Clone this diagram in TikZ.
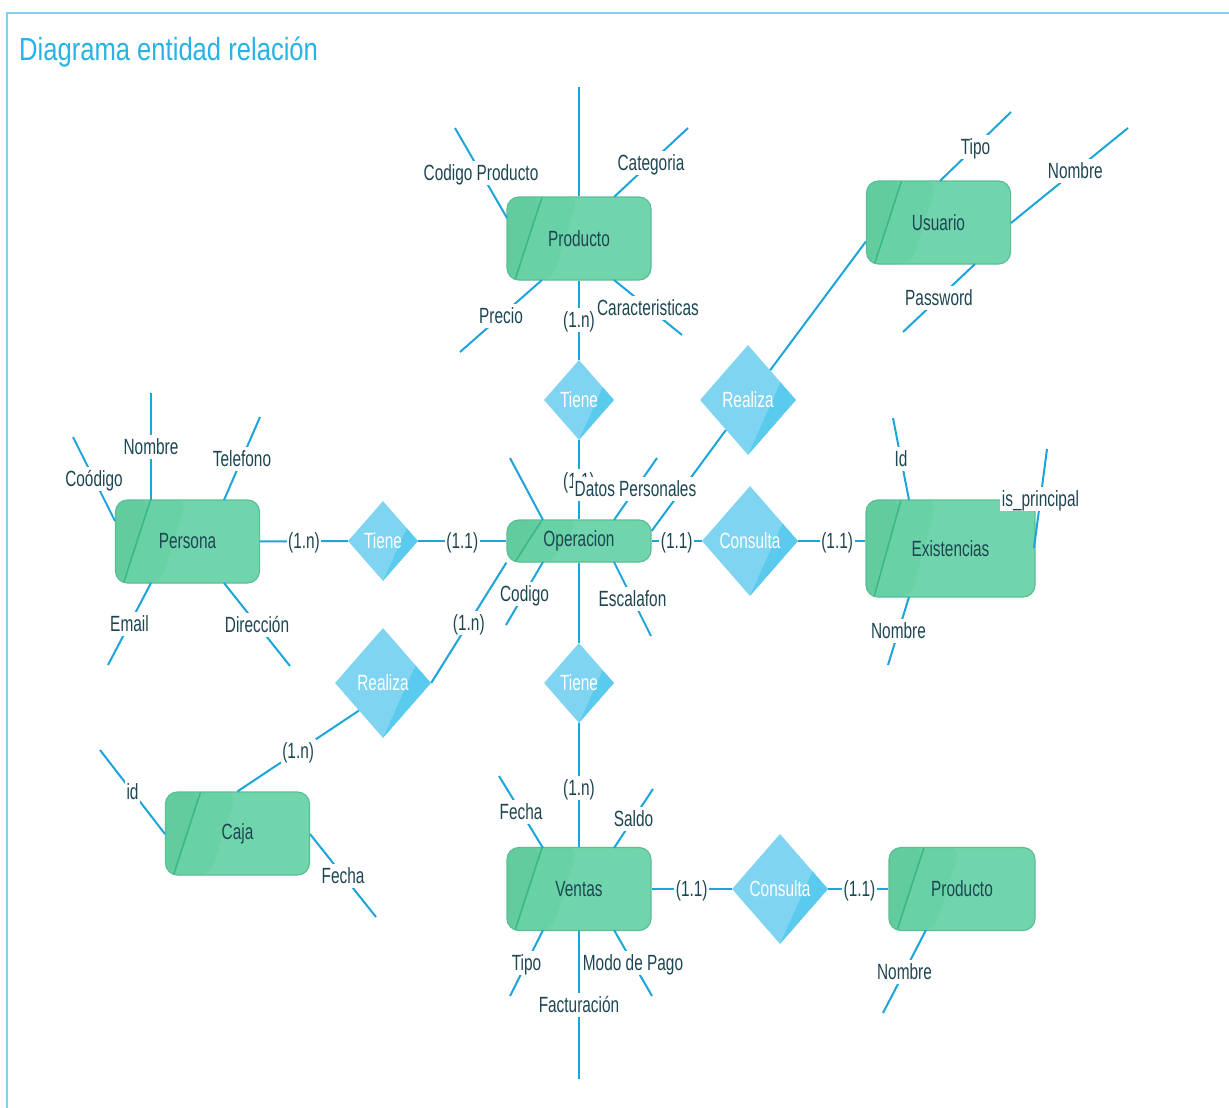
\documentclass[tikz,border=0pt]{standalone}
\usepackage{fontspec}
\setmainfont[FakeStretch=0.70]{Liberation Sans}
\newfontfamily\headfont[FakeStretch=0.80]{Liberation Sans}
\usetikzlibrary{shapes.geometric,calc}

\definecolor{lnblue}{HTML}{1CA5DB}
\definecolor{framecol}{HTML}{7ED3F3}
\definecolor{headcol}{HTML}{29B2E6}
\definecolor{txt}{HTML}{1D4652}
\definecolor{entfill}{HTML}{70D5AC}
\definecolor{entmid}{HTML}{69D1A6}
\definecolor{entdark}{HTML}{62CC9F}
\definecolor{entstripe}{HTML}{3BB886}
\definecolor{entborder}{HTML}{5BBE93}
\definecolor{diafill}{HTML}{7FD4F1}
\definecolor{diadark}{HTML}{5BCAEF}

\newcommand\lblfont{\fontsize{22}{24}\selectfont}

\tikzset{
  entity/.style={draw=entborder, line width=1.2pt, fill=entfill,
    rounded corners=12pt, minimum width=144pt, minimum height=83pt,
    inner sep=0pt, text=txt, font=\lblfont,
    path picture={
      \fill[entmid] (path picture bounding box.north west)
        -- ([xshift=71pt]path picture bounding box.north west)
        -- ([xshift=45pt]path picture bounding box.south west)
        -- (path picture bounding box.south west) -- cycle;
      \fill[entdark] (path picture bounding box.north west)
        -- ([xshift=35pt]path picture bounding box.north west)
        -- ([xshift=8pt]path picture bounding box.south west)
        -- (path picture bounding box.south west) -- cycle;
      \draw[entstripe, line width=1.6pt]
        ([xshift=35pt]path picture bounding box.north west)
        -- ([xshift=8pt]path picture bounding box.south west);
    }},
  relation/.style={shape=diamond, fill=diafill, inner sep=0pt,
    text=white, font=\lblfont,
    path picture={
      \fill[diadark]
        ($(path picture bounding box.north)!0.68!(path picture bounding box.east)$)
        -- (path picture bounding box.east)
        -- (path picture bounding box.south) -- cycle;
    }},
  smallrel/.style={relation, minimum width=70pt, minimum height=80pt},
  bigrel/.style={relation, minimum width=96pt, minimum height=110pt},
  conn/.style={draw=lnblue, line width=2pt},
  lbl/.style={fill=white, inner sep=1.5pt, text=txt, font=\lblfont,
    text height=18pt, text depth=3pt},
}

\begin{document}
\begin{tikzpicture}[x=1pt,y=-1pt]
\useasboundingbox (0,0) rectangle (1229,1108);
\fill[white] (0,0) rectangle (1229,1108);

% frame and heading
\draw[framecol, line width=2.6pt] (7,1108) -- (7,13) -- (1229,13);
\node[anchor=west, text=headcol, inner sep=0pt,
      font=\headfont\fontsize{32}{36}\selectfont] (heading) at (19,52)
      {Diagrama entidad relación};

% entities
\node[entity] (prod) at (579,238.5) {Producto};
\node[entity] (usu) at (938.5,222.5) {Usuario};
\node[entity] (pers) at (187.5,541.5) {Persona};
\node[entity, minimum height=42pt] (oper) at (579,541) {Operacion};
\node[entity, minimum width=169pt, minimum height=97pt] (exist) at (950.5,548.5) {Existencias};
\node[entity] (caja) at (237.5,833.5) {Caja};
\node[entity] (ventas) at (579,889) {Ventas};
\node[entity, minimum width=146pt] (prod2) at (962,889) {Producto};

% relationships
\node[smallrel] (tiene1) at (579,400) {Tiene};
\node[bigrel] (real1) at (748,400) {Realiza};
\node[smallrel] (tiene2) at (383,541) {Tiene};
\node[bigrel] (cons1) at (750,541) {Consulta};
\node[bigrel] (real2) at (383,683) {Realiza};
\node[smallrel] (tiene3) at (579,683) {Tiene};
\node[bigrel] (cons2) at (780,889) {Consulta};

% relationship connectors
\draw[conn] (prod) -- node[lbl] {(1.n)} (tiene1);
\draw[conn] (tiene1) -- node[lbl, pos=0.52] {(1.1)} (oper);
\draw[conn] (pers) -- node[lbl] {(1.n)} (tiene2);
\draw[conn] (tiene2) -- node[lbl] {(1.1)} (oper);
\draw[conn] (oper) -- node[lbl] {(1.1)} (cons1);
\draw[conn] (cons1) -- node[lbl, pos=0.58] {(1.1)} (cons1 -| exist.west);
\draw[conn] ([yshift=10pt]oper.east) -- (real1);
\draw[conn] (real1) -- ([yshift=-19pt]usu.west);
\draw[conn] (oper.south west) -- node[lbl] {(1.n)} (real2.east);
\draw[conn] (real2.south west) -- node[lbl] {(1.n)} (caja.north);
\draw[conn] (oper) -- (tiene3);
\draw[conn] (tiene3) -- node[lbl, pos=0.52] {(1.n)} (ventas);
\draw[conn] (ventas) -- node[lbl] {(1.1)} (cons2);
\draw[conn] (cons2) -- node[lbl, pos=0.52] {(1.1)} (prod2);

% attribute ends
\coordinate (prodTop) at (579,87);
\coordinate (aCodProd) at (455,128);
\coordinate (aCat) at (688,128);
\coordinate (aPrecio) at (460,352);
\coordinate (aCarac) at (682,335);
\coordinate (aTipoU) at (1011,112);
\coordinate (aNomU) at (1128,128);
\coordinate (aPass) at (903,332);
\coordinate (aNomP) at (151,393);
\coordinate (aCodP) at (73,437);
\coordinate (aTel) at (260,417);
\coordinate (aEmail) at (108,665);
\coordinate (aDir) at (290,666);
\coordinate (aOpUp) at (510,458);
\coordinate (aDatos) at (657,458);
\coordinate (aCodO) at (506,625);
\coordinate (aEsc) at (651,636);
\coordinate (aId) at (893,418);
\coordinate (aPrin) at (1047,449);
\coordinate (aNomE) at (888,665);
\coordinate (aIdC) at (100,750);
\coordinate (aFecC) at (376,917);
\coordinate (aFecV) at (499,776);
\coordinate (aSaldo) at (653,789);
\coordinate (aTipoV) at (510,996);
\coordinate (aModo) at (652,996);
\coordinate (aFact) at (579,1079);
\coordinate (aNomP2) at (883,1013);

% Producto attributes
\draw[conn] (prod.north) -- (prodTop);
\draw[conn] ([shift={(-72,-20.5)}]prod.center) -- node[lbl] {Codigo Producto} (aCodProd);
\draw[conn] ([shift={(35,-41.5)}]prod.center) -- node[lbl] {Categoria} (aCat);
\draw[conn] ([shift={(-37,41.5)}]prod.center) -- node[lbl] {Precio} (aPrecio);
\draw[conn] ([shift={(35,41.5)}]prod.center) -- node[lbl] {Caracteristicas} (aCarac);

% Usuario attributes
\draw[conn] ([shift={(1.5,-41.5)}]usu.center) -- node[lbl] {Tipo} (aTipoU);
\draw[conn] ([shift={(72.5,0.5)}]usu.center) -- node[lbl, pos=0.55] {Nombre} (aNomU);
\draw[conn] ([shift={(36.5,41.5)}]usu.center) -- node[lbl] {Password} (aPass);

% Persona attributes
\draw[conn] ([shift={(-36.5,-41.5)}]pers.center) -- node[lbl] {Nombre} (aNomP);
\draw[conn] ([shift={(-72.5,-20.5)}]pers.center) -- node[lbl] {Coódigo} (aCodP);
\draw[conn] ([shift={(36.5,-41.5)}]pers.center) -- node[lbl] {Telefono} (aTel);
\draw[conn] ([shift={(-36.5,41.5)}]pers.center) -- node[lbl] {Email} (aEmail);
\draw[conn] ([shift={(36.5,41.5)}]pers.center) -- node[lbl] {Dirección} (aDir);

% Operacion attributes
\draw[conn] ([shift={(-36,-21)}]oper.center) -- (aOpUp);
\draw[conn] ([shift={(35,-21)}]oper.center) -- node[lbl] {Datos Personales} (aDatos);
\draw[conn] ([shift={(-36,21)}]oper.center) -- node[lbl] {Codigo} (aCodO);
\draw[conn] ([shift={(35,21)}]oper.center) -- node[lbl] {Escalafon} (aEsc);

% Existencias attributes
\draw[conn] ([shift={(-41.5,-48.5)}]exist.center) -- node[lbl] {Id} (aId);
\draw[conn] ([shift={(83.5,-0.5)}]exist.center) -- node[lbl] {is\_principal} (aPrin);
\draw[conn] ([shift={(-41.5,48.5)}]exist.center) -- node[lbl] {Nombre} (aNomE);

% Caja attributes
\draw[conn] ([shift={(-72.5,0.5)}]caja.center) -- node[lbl] {id} (aIdC);
\draw[conn] ([shift={(72.5,0.5)}]caja.center) -- node[lbl] {Fecha} (aFecC);

% Ventas attributes
\draw[conn] ([shift={(-36,-41)}]ventas.center) -- node[lbl] {Fecha} (aFecV);
\draw[conn] ([shift={(35,-41)}]ventas.center) -- node[lbl] {Saldo} (aSaldo);
\draw[conn] ([shift={(-36,41)}]ventas.center) -- node[lbl] {Tipo} (aTipoV);
\draw[conn] ([shift={(35,41)}]ventas.center) -- node[lbl] {Modo de Pago} (aModo);
\draw[conn] (ventas.south) -- node[lbl] {Facturación} (aFact);

% second Producto attribute
\draw[conn] ([shift={(-36,41)}]prod2.center) -- node[lbl] {Nombre} (aNomP2);
\end{tikzpicture}
\end{document}
